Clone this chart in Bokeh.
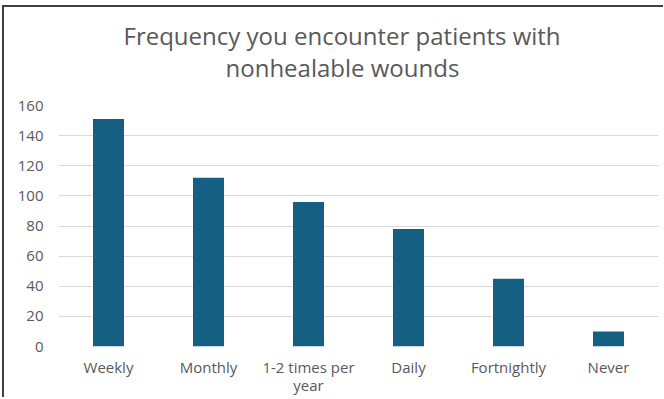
from bokeh.plotting import figure
from bokeh.models import (ColumnDataSource, Range1d, FixedTicker, CategoricalAxis,
                          CustomJSTickFormatter, Title)
from bokeh.embed import file_html
from bokeh.resources import INLINE

# Survey responses: how often respondents encounter patients with nonhealable wounds
categories = ["Weekly", "Monthly", "1-2 times per year", "Daily", "Fortnightly", "Never"]
counts = [151, 112, 96, 78, 45, 10]
y_ticks = [0, 20, 40, 60, 80, 100, 120, 140, 160]
title_lines = ["Frequency you encounter patients with", "nonhealable wounds"]
wrapped_label = "1-2 times per year"
wrapped_parts = ["1-2 times per", "year"]

FONT = "Open Sans"
TEXT_COLOR = "#595959"
BAR_COLOR = "#156082"
LABEL_SIZE = "15px"

source = ColumnDataSource(data=dict(category=categories, count=counts))

p = figure(
    x_range=categories,
    y_range=Range1d(0, 160),
    width=661,
    height=392,
    output_backend="svg",
    toolbar_location=None,
    min_border_left=54,
    min_border_right=7,
    min_border_top=98,
    min_border_bottom=53,
)
p.styles = {
    "border-top": "2px solid #404040",
    "border-left": "2px solid #404040",
    "margin-top": "5px",
    "margin-left": "2px",
}

# Two heading lines, left-aligned with offsets so both centre on the chart box;
# the one added first sits nearest the plot
for text, offset, standoff in [(title_lines[1], 167, 44), (title_lines[0], 65, -50)]:
    p.add_layout(Title(text=text, align="left", offset=offset, text_font=FONT,
                       text_font_size="24px", text_font_style="normal",
                       text_color=TEXT_COLOR, standoff=standoff), "above")

p.vbar(x="category", top="count", width=0.31, source=source,
       fill_color=BAR_COLOR, line_color=None)

p.outline_line_color = None
p.background_fill_color = "white"
p.border_fill_color = "white"

p.xgrid.grid_line_color = None
p.ygrid.grid_line_color = "#d9d9d9"
p.ygrid.grid_line_width = 1

p.yaxis.ticker = FixedTicker(ticks=y_ticks)

# Second category axis carries the wrapped part of the long label
wrap_axis = CategoricalAxis()
p.add_layout(wrap_axis, "below")

for ax in (p.xaxis[0], wrap_axis, p.yaxis[0]):
    ax.axis_line_color = None
    ax.major_tick_line_color = None
    ax.minor_tick_line_color = None
    ax.major_tick_out = 0
    ax.major_tick_in = 0
    ax.major_label_text_font = FONT
    ax.major_label_text_font_size = LABEL_SIZE
    ax.major_label_text_color = TEXT_COLOR

p.yaxis.major_label_standoff = 15
p.xaxis[0].major_label_standoff = 10
p.xaxis[0].formatter = CustomJSTickFormatter(
    args=dict(full=wrapped_label, first=wrapped_parts[0]),
    code="return tick == full ? first : tick;")
wrap_axis.major_label_standoff = -5
wrap_axis.formatter = CustomJSTickFormatter(
    args=dict(full=wrapped_label, second=wrapped_parts[1]),
    code="return tick == full ? second : '';")

open("out.html", "w").write(file_html(p, INLINE))
